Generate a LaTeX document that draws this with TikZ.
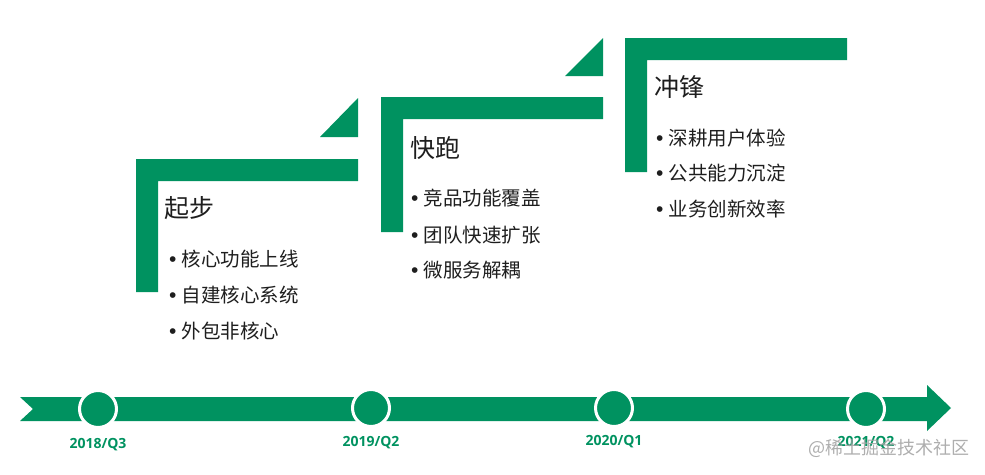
\documentclass[tikz,border=0pt]{standalone}
\usepackage{fontspec}
\setmainfont{Noto Sans CJK SC}
\newfontfamily\lat{Liberation Sans}
\newfontfamily\lab{Open Sans}
\definecolor{tgreen}{RGB}{0,146,96}
\definecolor{ttext}{RGB}{30,30,30}
\definecolor{wmark}{RGB}{165,165,165}
\begin{document}
\begin{tikzpicture}[x=1pt,y=-1pt,
  shapefill/.style={fill=tgreen,draw=none},
  title/.style={anchor=west,inner sep=0pt,text=ttext,font=\fontsize{25}{28}\selectfont},
  item/.style={anchor=west,inner sep=0pt,text=ttext,font=\fontsize{19.5}{22}\selectfont},
  dot/.style={circle,fill=tgreen,draw=white,line width=3pt,minimum size=37pt,inner sep=0pt},
  datelabel/.style={inner sep=0pt,text=tgreen,font=\lab\bfseries\fontsize{14}{16}\selectfont}]
\useasboundingbox (0,0) rectangle (985,474);
\newcommand\bul{{\lat\fontsize{21}{22}\selectfont\textbullet}\hspace{5pt}}
% step 1
\fill[shapefill] (136,159) -- (358,159) -- (358,181) -- (158,181) -- (158,292) -- (136,292) -- cycle;
\fill[shapefill] (320,137) -- (358,137) -- (358,98) -- cycle;
\node[title] (t1) at (164,208) {起步};
\node[item] (i11) at (169,259) {\bul 核心功能上线};
\node[item] (i12) at (169,295) {\bul 自建核心系统};
\node[item] (i13) at (169,331) {\bul 外包非核心};
% step 2
\fill[shapefill] (381,97) -- (603,97) -- (603,119) -- (403,119) -- (403,232) -- (381,232) -- cycle;
\fill[shapefill] (565,76) -- (603,76) -- (603,38) -- cycle;
\node[title] (t2) at (410,148) {快跑};
\node[item] (i21) at (411,198) {\bul 竞品功能覆盖};
\node[item] (i22) at (411,235) {\bul 团队快速扩张};
\node[item] (i23) at (411,270) {\bul 微服务解耦};
% step 3
\fill[shapefill] (625,38) -- (847,38) -- (847,60) -- (647,60) -- (647,172) -- (625,172) -- cycle;
\node[title] (t3) at (654,87) {冲锋};
\node[item] (i31) at (656,138) {\bul 深耕用户体验};
\node[item] (i32) at (656,173) {\bul 公共能力沉淀};
\node[item] (i33) at (656,209) {\bul 业务创新效率};
% timeline
\fill[shapefill] (20,397) -- (927,397) -- (927,385) -- (951,408) -- (927,431) -- (927,421) -- (20,421) -- (33,409) -- cycle;
\node[dot] (c1) at (98,409) {};
\node[dot] (c2) at (371,408) {};
\node[dot] (c3) at (614,408) {};
\node[dot] (c4) at (866,409) {};
\node[datelabel] (d1) at (98,445) {2018/Q3};
\node[datelabel] (d2) at (371,443) {2019/Q2};
\node[datelabel] (d3) at (614,442) {2020/Q1};
\node[datelabel] (d4) at (866,443) {2021/Q2};
\node[anchor=west,inner sep=0pt,text=wmark,opacity=0.9,font=\fontsize{18}{20}\selectfont] (wm) at (808,448) {@稀土掘金技术社区};
\end{tikzpicture}
\end{document}
